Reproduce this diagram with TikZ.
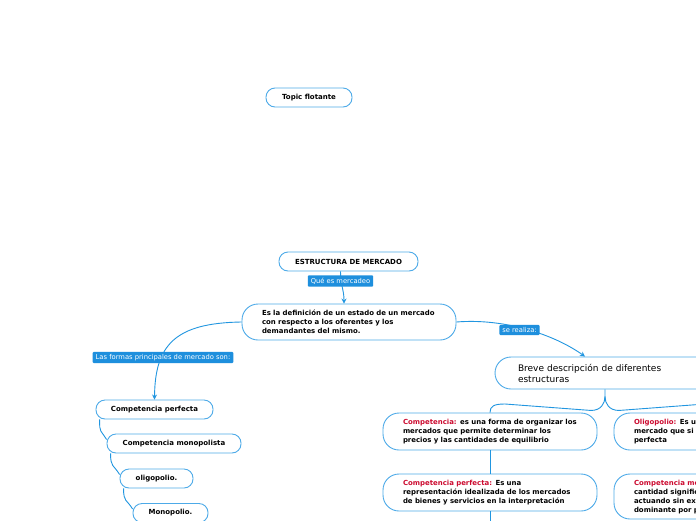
\documentclass[tikz,border=0pt]{standalone}
\usepackage{fontspec}
\setmainfont{DejaVu Sans}
\usetikzlibrary{arrows.meta}
\definecolor{boxc}{HTML}{4DAAE8}
\definecolor{linec}{HTML}{2196E0}
\definecolor{tagc}{HTML}{1E8FDD}
\definecolor{redc}{HTML}{CC0A2F}
\tikzset{
  pill/.style={draw=boxc, line width=0.9pt, rounded corners=9pt, fill=white,
    font=\fontsize{7}{8}\selectfont\bfseries, minimum height=19pt, inner sep=0pt},
  bigbox/.style={draw=boxc, line width=0.9pt, rounded corners=16pt, fill=white,
    font=\fontsize{6.95}{9}\selectfont\bfseries, align=left, inner xsep=20pt,
    inner ysep=0pt, minimum height=37pt, text width=#1},
  tag/.style={fill=tagc, text=white, font=\fontsize{6.75}{7}\selectfont,
    inner xsep=3pt, inner ysep=2.4pt, rounded corners=1pt},
  conn/.style={draw=linec, line width=0.9pt},
  arr/.style={conn, -{Stealth[length=5pt,width=5pt]}},
}
\begin{document}
\begin{tikzpicture}[x=1pt,y=-1pt]
\useasboundingbox (0,0) rectangle (696,520);
\clip (0,0) rectangle (696,520);
\fill[white] (0,0) rectangle (696,520);

% nodes
\node[pill, minimum width=86pt] (topic) at (309,97.5) {Topic flotante};
\node[pill, minimum width=139pt] (estr) at (348.5,261.5) {ESTRUCTURA DE MERCADO};
\node[bigbox=174pt, minimum height=36pt] (def) at (349,322)
  {Es la definición de un estado de un mercado\\con respecto a los oferentes y los\\demandantes del mismo.};
\node[pill, minimum width=117pt] (cp) at (154.5,409.5) {Competencia perfecta};
\node[pill, minimum width=134pt] (cm) at (174,443.5) {Competencia monopolista};
\node[pill, minimum width=73pt] (ol) at (156.5,478.5) {oligopolio.};
\node[pill, minimum width=75pt] (mo) at (170.5,513) {Monopolio.};

\node[draw=boxc, line width=0.9pt, rounded corners=16pt, fill=white,
  font=\fontsize{9}{11}\selectfont, align=left, inner xsep=23pt, inner ysep=0pt,
  minimum height=32pt, text width=174pt] (brev) at (605,373)
  {Breve descripción de diferentes\\estructuras};

\node[bigbox=174pt] (comp) at (490,431.5)
  {\textcolor{redc}{Competencia:} es una forma de organizar los\\mercados que permite determinar los\\precios y las cantidades de equilibrio};
\node[bigbox=174pt] (oli) at (721,431.5)
  {\textcolor{redc}{Oligopolio:} Es un tipo de\\mercado que si bien no es competencia\\perfecta};
\node[bigbox=174pt] (cperf) at (490,492.5)
  {\textcolor{redc}{Competencia perfecta:} Es una\\representación idealizada de los mercados\\de bienes y servicios en la interpretación};
\node[bigbox=174pt, minimum height=45pt] (cmon) at (721,496.5)
  {\textcolor{redc}{Competencia monopolística:} Una\\cantidad significativa de productores\\actuando sin existir uno\\dominante por participación};
\coordinate (cperfnext) at (490,540);

% connectors
\draw[arr] ([xshift=-8pt]estr.south) .. controls +(0,14) and +(0,-14) .. ([xshift=-5pt]def.north);
\draw[arr] (def.west) .. controls (175,323) and (155,345) .. (cp.north);
\draw[arr] (def.east) .. controls (505,318) and (555,335) .. ([xshift=-20pt]brev.north);
\draw[conn] (brev.south) -- ++(0,7) .. controls +(0,7) and +(10,0) .. ++(-14,14) -- (505,404)
  .. controls (494,404) and (490,406) .. (comp.north);
\draw[conn] (brev.south) ++(0,7) .. controls +(0,7) and +(-10,0) .. ++(14,14) -- (705,404)
  .. controls (716,404) and (721,406) .. (oli.north);
\draw[conn] (comp.south) -- (cperf.north);
\draw[conn] (cperf.south) -- (cperfnext);
\draw[conn] (oli.south) -- (cmon.north);

\draw[conn] ([xshift=4pt]cp.south west) .. controls +(0,14) and +(-6,-10) .. ([yshift=4pt]cm.west);
\draw[conn] ([xshift=4pt]cm.south west) .. controls +(0,14) and +(-6,-10) .. ([yshift=4pt]ol.west);
\draw[conn] ([xshift=4pt]ol.south west) .. controls +(0,14) and +(-6,-10) .. ([yshift=4pt]mo.west);

% labels
\node[tag] (t1) at (340.5,281) {Qué es mercadeo};
\node[tag] (t2) at (163,357.5) {Las formas principales de mercado son:};
\node[tag] (t3) at (519.5,330) {se realiza:};
\end{tikzpicture}
\end{document}
